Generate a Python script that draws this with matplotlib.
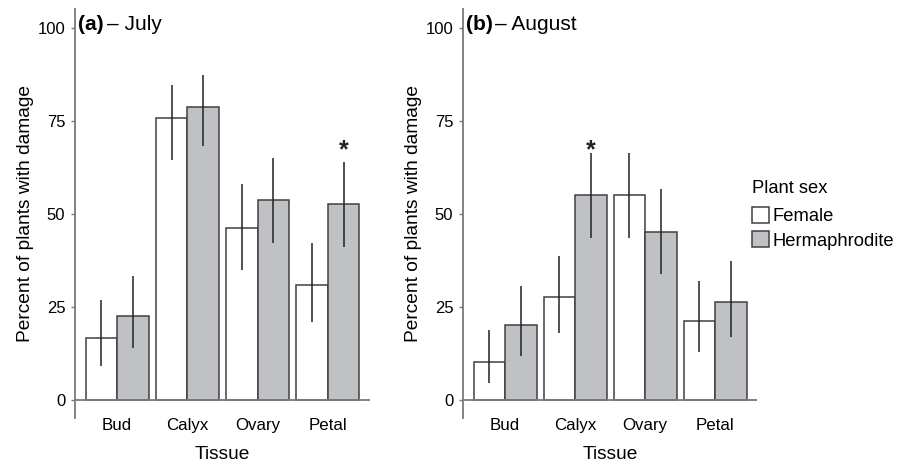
import matplotlib
matplotlib.use("Agg")
import matplotlib.pyplot as plt
from matplotlib.patches import Patch
import numpy as np

plt.rcParams['font.family'] = ['Liberation Sans', 'DejaVu Sans']

tissues = ["Bud", "Calyx", "Ovary", "Petal"]
sexes = ["Female", "Hermaphrodite"]

# Panel (a) July
july_female = [16.7, 75.8, 46.2, 30.8]
july_female_lo = [9.2, 64.6, 34.9, 20.9]
july_female_hi = [26.9, 84.8, 58.1, 42.3]
july_herm = [22.6, 78.8, 53.8, 52.6]
july_herm_lo = [13.9, 68.3, 42.3, 41.0]
july_herm_hi = [33.3, 87.3, 65.1, 63.9]

# Panel (b) August
aug_female = [10.1, 27.6, 55.1, 21.3]
aug_female_lo = [4.5, 18.1, 43.5, 13.0]
aug_female_hi = [18.8, 38.7, 66.3, 32.0]
aug_herm = [20.1, 55.1, 45.1, 26.3]
aug_herm_lo = [11.8, 43.5, 33.9, 17.0]
aug_herm_hi = [30.6, 66.3, 56.7, 37.4]

star_a = ("Petal", 1, 67.0)
star_b = ("Calyx", 1, 67.0)

yticks = [0, 25, 50, 75, 100]

herm_color = "#c0c1c4"
edge_color = "#404040"
axis_color = "#7a7a7a"

fig = plt.figure(figsize=(9.09, 4.62), dpi=100)
W, H = 909, 462

def make_ax(left_px, width_px):
    return fig.add_axes([left_px / W, (H - 418) / H, width_px / W, 409 / H])

ax_a = make_ax(75, 295)
ax_b = make_ax(463, 294)

bw = 0.45

def draw(ax, fem, flo, fhi, her, hlo, hhi, star, bold, rest, restx):
    x = np.arange(1, len(tissues) + 1)
    xf = x - bw / 2
    xh = x + bw / 2
    ax.bar(xf, fem, width=bw, color="white", edgecolor=edge_color, linewidth=1.1, zorder=2)
    ax.bar(xh, her, width=bw, color=herm_color, edgecolor=edge_color, linewidth=1.1, zorder=2)
    ax.vlines(xf, flo, fhi, color="#222222", linewidth=1.1, zorder=3)
    ax.vlines(xh, hlo, hhi, color="#222222", linewidth=1.1, zorder=3)
    ax.axhline(0, color=axis_color, linewidth=1.3, zorder=4)
    ax.set_xlim(0.4, 4.6)
    ax.set_ylim(-4.84, 105.1)
    ax.set_xticks(x)
    ax.set_xticklabels(tissues, fontsize=12.2)
    ax.set_yticks(yticks)
    ax.set_yticklabels([str(v) for v in yticks], fontsize=12)
    ax.tick_params(axis='x', length=0, pad=0)
    ax.tick_params(axis='y', length=3, width=1, color=axis_color, pad=4)
    for s in ["top", "right", "bottom"]:
        ax.spines[s].set_visible(False)
    ax.spines["left"].set_color(axis_color)
    ax.spines["left"].set_linewidth(1.3)
    ax.set_xlabel("Tissue", fontsize=13.8, va="top")
    ax.xaxis.set_label_coords(0.5, -0.068)
    ax.set_ylabel("Percent of plants with damage", fontsize=13.8)
    ax.yaxis.set_label_coords(-0.14, 0.5)
    idx = tissues.index(star[0])
    sx = (idx + 1) + (bw / 2 if star[1] == 1 else -bw / 2)
    ax.text(sx, star[2], "*", fontsize=18, fontweight="bold", ha="center", va="center", color="#222222")
    ax.text(0.010, 0.963, bold, transform=ax.transAxes, fontsize=15, fontweight="bold",
            ha="left", va="center")
    ax.text(restx, 0.963, rest, transform=ax.transAxes, fontsize=15,
            ha="left", va="center")

draw(ax_a, july_female, july_female_lo, july_female_hi, july_herm, july_herm_lo, july_herm_hi,
     star_a, "(a)", "– July", 0.108)
draw(ax_b, aug_female, aug_female_lo, aug_female_hi, aug_herm, aug_herm_lo, aug_herm_hi,
     star_b, "(b)", "– August", 0.110)

handles = [Patch(facecolor="white", edgecolor=edge_color, linewidth=1.1),
           Patch(facecolor=herm_color, edgecolor=edge_color, linewidth=1.1)]
leg = fig.legend(handles, sexes, title="Plant sex", loc="upper left",
                 bbox_to_anchor=(752 / W, 1 - 180 / H), frameon=False,
                 fontsize=13.2, title_fontsize=13.2, handlelength=0.95, handleheight=0.95,
                 handletextpad=0.15, borderpad=0, borderaxespad=0, labelspacing=0.35)
leg._legend_box.align = "left"
leg._legend_box.sep = 7

fig.savefig("out.png", dpi=100)
